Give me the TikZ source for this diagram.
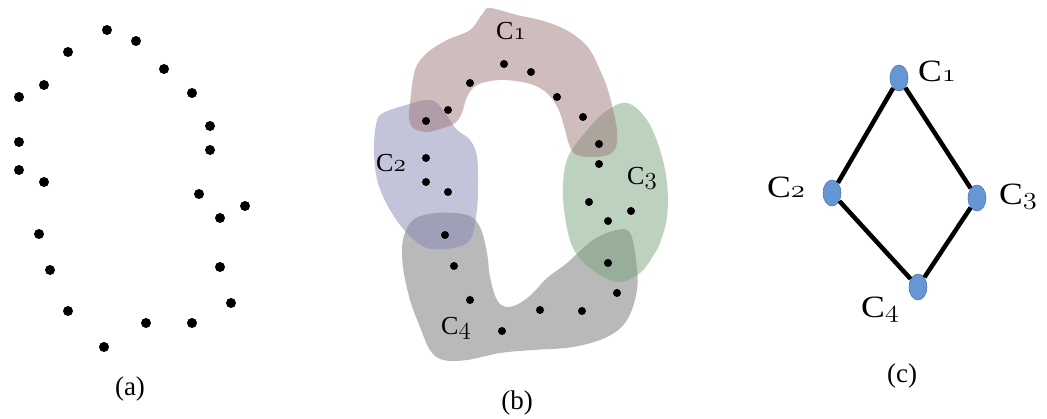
\documentclass[tikz,border=0pt]{standalone}
\usepackage{fontspec}
\usepackage{graphicx}
\setmainfont{Liberation Serif}
\usetikzlibrary{shapes.geometric}
\newcommand{\clab}[1]{C\legacyoldstylenums{#1}}
\newcommand{\wideclab}[1]{\scalebox{1.15}[1]{\clab{#1}}}
\definecolor{cA}{RGB}{159,121,121}
\definecolor{cB}{RGB}{135,135,181}
\definecolor{cC}{RGB}{121,165,125}
\definecolor{cD}{RGB}{115,115,115}
\definecolor{vblue}{RGB}{102,150,212}
\begin{document}
\begin{tikzpicture}[x=1pt,y=-1pt,
  blob/.style={fill opacity=0.5, draw=none},
  clabB/.style={font=\fontsize{26}{30}\selectfont, anchor=base west, inner sep=0pt},
  clabC/.style={font=\fontsize{31}{36}\selectfont, anchor=base west, inner sep=0pt},
  caption/.style={font=\fontsize{27}{32}\selectfont},
  vert/.style={ellipse, minimum width=18pt, minimum height=26pt, inner sep=0pt, fill=vblue, draw=vblue!80!black, line width=0.6pt},
  edgeline/.style={line width=4.5pt}]
\useasboundingbox (0,0) rectangle (1047,419);

% ---------- panel (a) ----------
\foreach \x/\y in {107/30,136/41,68/52,164/69,44/85,19/97,192/93,210/126,210/150,19/142,19/170,44/182,199/194,245/206,220/218,39/234,50/270,220/267,231/303,68/311,146/323,192/323,104/347}
  \fill (\x,\y) circle (5);
\node[caption] (capa) at (130,389) {(a)};

% ---------- panel (b) ----------
% C4 (grey)
\fill[blob, cD] plot[smooth cycle, tension=0.6] coordinates {
 (403,240) (413,220) (437,213) (467,215) (480,227) (487,253) (490,277) (497,300)
 (507,307) (520,303) (533,293) (547,278) (567,263) (593,240) (617,230) (630,233)
 (636,260) (637,290) (627,320) (607,337) (573,347) (533,350) (500,353) (467,360)
 (443,360) (430,350) (420,327) (410,300) (403,267)};
% C2 (blue)
\fill[blob, cB] plot[smooth cycle, tension=0.6] coordinates {
 (383,113) (413,103) (427,100) (437,103) (450,120) (457,130) (470,140) (477,157)
 (478,190) (476,217) (470,240) (453,248) (427,248) (407,233) (390,210) (378,183)
 (374,153) (376,125)};
% C3 (green)
\fill[blob, cC] plot[smooth cycle, tension=0.6] coordinates {
 (627,103) (647,120) (660,150) (667,183) (667,217) (660,243) (653,256) (640,273)
 (617,282) (590,268) (573,248) (565,217) (563,185) (568,157) (584,134) (605,112)};
% C1 (pink-brown)
\fill[blob, cA] plot[smooth cycle, tension=0.6] coordinates {
 (410,103) (415,70) (427,53) (447,40) (470,30) (483,13) (490,8) (517,15) (540,20)
 (560,27) (577,37) (590,50) (600,70) (608,90) (613,110) (617,130) (616,147) (608,155)
 (593,157) (577,155) (570,147) (565,130) (560,113) (553,100) (543,90) (527,83)
 (500,80) (477,85) (467,97) (462,113) (455,123) (443,128) (427,132) (413,128) (409,117)};

\foreach \x/\y in {504/64,531/72,470/83,557/97,448/110,426/121,583/117,599/144,599/164,426/158,426/182,448/192,589/202,631/211,608/221,445/235,454/266,608/263,617/293,470/300,540/310,582/311,502/331}
  \fill (\x,\y) circle (4);

\node[clabB] (b1) at (496,40) {\clab{1}};
\node[clabB] (b2) at (376,172) {\clab{2}};
\node[clabB] (b3) at (627,185) {\clab{3}};
\node[clabB] (b4) at (441,335) {\clab{4}};
\node[caption] (capb) at (517,403) {(b)};

% ---------- panel (c) ----------
\node[vert] (v1) at (899,78) {};
\node[vert] (v2) at (832,193) {};
\node[vert] (v3) at (977,198) {};
\node[vert] (v4) at (918,287) {};
\draw[edgeline] (v1) -- (v2);
\draw[edgeline] (v1) -- (v3);
\draw[edgeline] (v2) -- (v4);
\draw[edgeline] (v3) -- (v4);
\node[clabC] (l1) at (918,82) {\wideclab{1}};
\node[clabC] (l2) at (767,198) {\wideclab{2}};
\node[clabC] (l3) at (999,205) {\wideclab{3}};
\node[clabC] (l4) at (861,318) {\wideclab{4}};
\node[caption] (capc) at (902,376) {(c)};
\end{tikzpicture}
\end{document}
